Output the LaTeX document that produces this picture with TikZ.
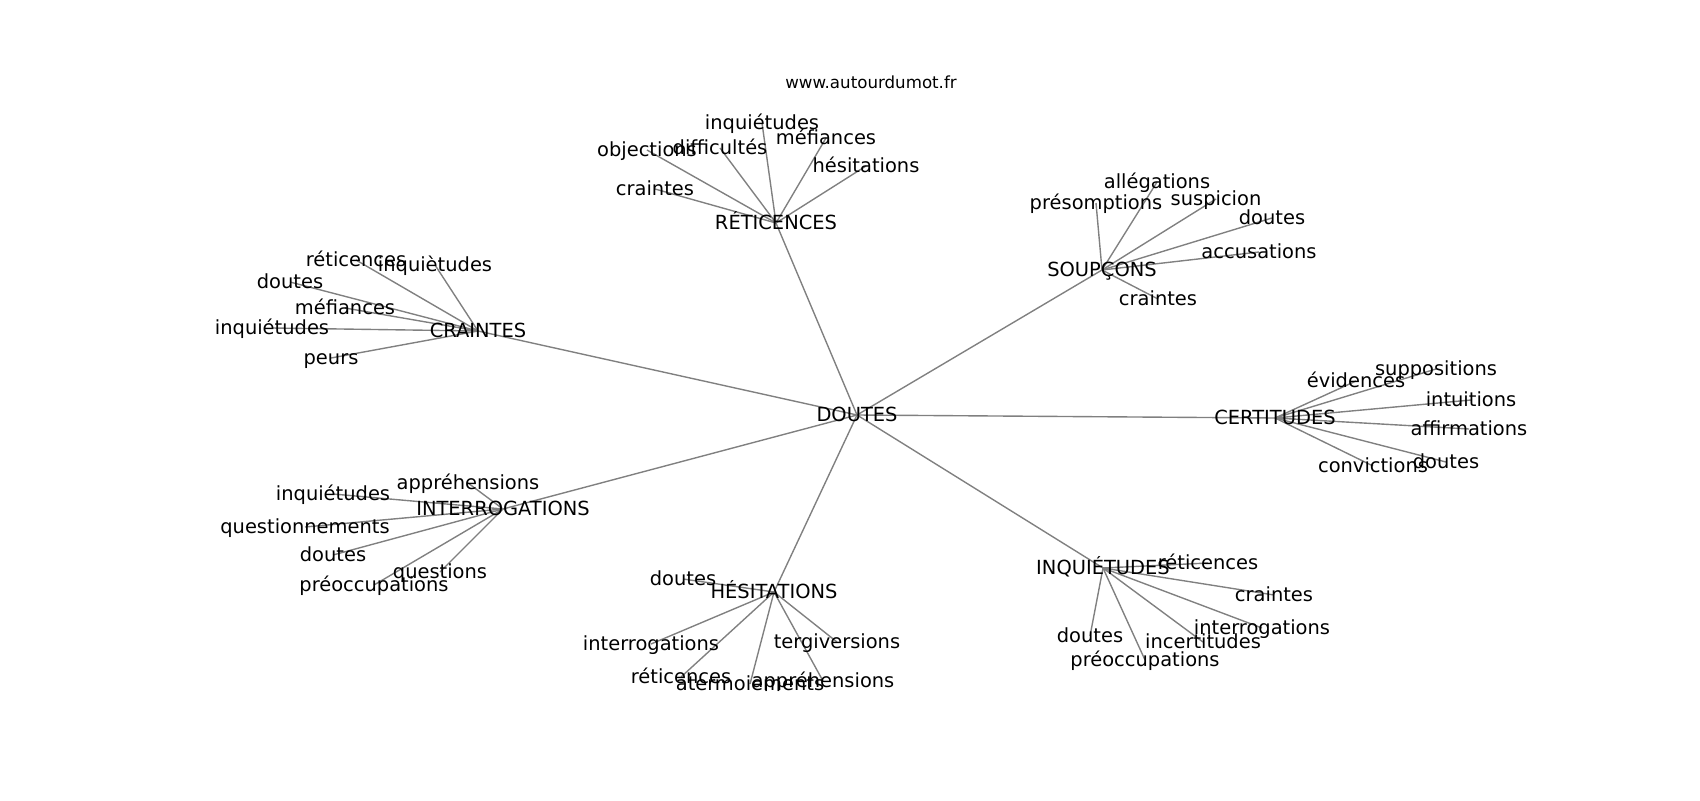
\documentclass[tikz,border=0pt]{standalone}
\usepackage{fontspec}
\setmainfont{DejaVu Sans}
\begin{document}
\begin{tikzpicture}[x=0.72pt,y=-0.72pt,
  lbl/.style={inner sep=0pt,anchor=center,yshift=-2.3pt,text height=0.76em,text depth=0.24em,font=\fontsize{14}{17}\selectfont},
  ttl/.style={inner sep=0pt,anchor=center,yshift=-2.3pt,text height=0.76em,text depth=0.24em,font=\fontsize{12}{14}\selectfont},
  edge/.style={draw=black!50,line width=1pt}]
\useasboundingbox (0,0) rectangle (1700,800);
% title
\node[ttl] (title) at (871,82) {www.autourdumot.fr};
% hubs
\coordinate (D) at (857,415);
\coordinate (R) at (776,223);
\coordinate (C) at (478,331);
\coordinate (S) at (1102,270);
\coordinate (CE) at (1275,418);
\coordinate (I) at (503,509);
\coordinate (H) at (774,592);
\coordinate (Q) at (1103,568);
% leaves
\coordinate (r1) at (647,150);
\coordinate (r2) at (720,148);
\coordinate (r3) at (762,123);
\coordinate (r4) at (826,138);
\coordinate (r5) at (866,166);
\coordinate (r6) at (655,189);
\coordinate (c1) at (356,260);
\coordinate (c2) at (435,265);
\coordinate (c3) at (290,282);
\coordinate (c4) at (345,308);
\coordinate (c5) at (272,328);
\coordinate (c6) at (331,358);
\coordinate (s1) at (1157,182);
\coordinate (s2) at (1096,203);
\coordinate (s3) at (1216,199);
\coordinate (s4) at (1272,218);
\coordinate (s5) at (1259,252);
\coordinate (s6) at (1158,299);
\coordinate (e1) at (1356,381);
\coordinate (e2) at (1436,369);
\coordinate (e3) at (1471,400);
\coordinate (e4) at (1469,429);
\coordinate (e5) at (1446,462);
\coordinate (e6) at (1373,466);
\coordinate (i1) at (468,483);
\coordinate (i2) at (333,494);
\coordinate (i3) at (305,527);
\coordinate (i4) at (333,555);
\coordinate (i5) at (440,572);
\coordinate (i6) at (374,585);
\coordinate (h1) at (683,579);
\coordinate (h2) at (651,644);
\coordinate (h3) at (681,677);
\coordinate (h4) at (750,684);
\coordinate (h5) at (823,681);
\coordinate (h6) at (837,642);
\coordinate (q1) at (1208,563);
\coordinate (q2) at (1274,595);
\coordinate (q3) at (1262,628);
\coordinate (q4) at (1203,642);
\coordinate (q5) at (1090,636);
\coordinate (q6) at (1145,660);
% edges
\foreach \h in {R,C,S,CE,I,H,Q} \draw[edge] (D) -- (\h);
\foreach \l in {r1,r2,r3,r4,r5,r6} \draw[edge] (R) -- (\l);
\foreach \l in {c1,c2,c3,c4,c5,c6} \draw[edge] (C) -- (\l);
\foreach \l in {s1,s2,s3,s4,s5,s6} \draw[edge] (S) -- (\l);
\foreach \l in {e1,e2,e3,e4,e5,e6} \draw[edge] (CE) -- (\l);
\foreach \l in {i1,i2,i3,i4,i5,i6} \draw[edge] (I) -- (\l);
\foreach \l in {h1,h2,h3,h4,h5,h6} \draw[edge] (H) -- (\l);
\foreach \l in {q1,q2,q3,q4,q5,q6} \draw[edge] (Q) -- (\l);
% labels
\node[lbl] (nD) at (D) {DOUTES};
\node[lbl] (nR) at (R) {RÉTICENCES};
\node[lbl] (nC) at (C) {CRAINTES};
\node[lbl] (nS) at (S) {SOUPÇONS};
\node[lbl] (nCE) at (CE) {CERTITUDES};
\node[lbl] (nI) at (I) {INTERROGATIONS};
\node[lbl] (nH) at (H) {HÉSITATIONS};
\node[lbl] (nQ) at (Q) {INQUIÉTUDES};
\node[lbl] at (r1) {objections};
\node[lbl] at (r2) {difficultés};
\node[lbl] at (r3) {inquiétudes};
\node[lbl] at (r4) {méfiances};
\node[lbl] at (r5) {hésitations};
\node[lbl] at (r6) {craintes};
\node[lbl] at (c1) {réticences};
\node[lbl] at (c2) {inquiètudes};
\node[lbl] at (c3) {doutes};
\node[lbl] at (c4) {méfiances};
\node[lbl] at (c5) {inquiétudes};
\node[lbl] at (c6) {peurs};
\node[lbl] at (s1) {allégations};
\node[lbl] at (s2) {présomptions};
\node[lbl] at (s3) {suspicion};
\node[lbl] at (s4) {doutes};
\node[lbl] at (s5) {accusations};
\node[lbl] at (s6) {craintes};
\node[lbl] at (e1) {évidences};
\node[lbl] at (e2) {suppositions};
\node[lbl] at (e3) {intuitions};
\node[lbl] at (e4) {affirmations};
\node[lbl] at (e5) {doutes};
\node[lbl] at (e6) {convictions};
\node[lbl] at (i1) {appréhensions};
\node[lbl] at (i2) {inquiétudes};
\node[lbl] at (i3) {questionnements};
\node[lbl] at (i4) {doutes};
\node[lbl] at (i5) {questions};
\node[lbl] at (i6) {préoccupations};
\node[lbl] at (h1) {doutes};
\node[lbl] at (h2) {interrogations};
\node[lbl] at (h3) {réticences};
\node[lbl] at (h4) {atermoiements};
\node[lbl] at (h5) {appréhensions};
\node[lbl] at (h6) {tergiversions};
\node[lbl] at (q1) {réticences};
\node[lbl] at (q2) {craintes};
\node[lbl] at (q3) {interrogations};
\node[lbl] at (q4) {incertitudes};
\node[lbl] at (q5) {doutes};
\node[lbl] at (q6) {préoccupations};
\end{tikzpicture}
\end{document}
